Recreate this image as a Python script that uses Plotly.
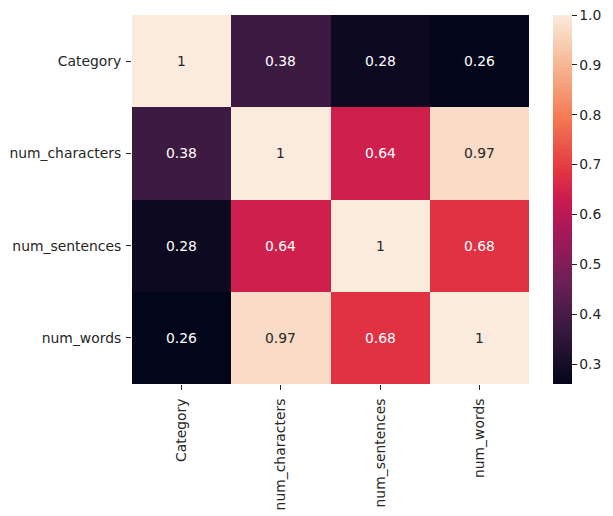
import plotly.graph_objects as go

labels = ['Category', 'num_characters', 'num_sentences', 'num_words']
corr = [
    [1, 0.38, 0.28, 0.26],
    [0.38, 1, 0.64, 0.97],
    [0.28, 0.64, 1, 0.68],
    [0.26, 0.97, 0.68, 1],
]
cbar_ticks = [0.3, 0.4, 0.5, 0.6, 0.7, 0.8, 0.9, 1.0]
cbar_text = ['0.3', '0.4', '0.5', '0.6', '0.7', '0.8', '0.9', '1.0']

# seaborn "rocket" colormap
rocket = [
    [0.0, '#03051a'], [0.143, '#35193e'], [0.286, '#701f57'], [0.429, '#ad1759'],
    [0.5, '#cb1b4f'], [0.571, '#e13342'], [0.714, '#f37651'], [0.857, '#f6b48f'],
    [1.0, '#faebdd'],
]

# the page has an 8px body margin, so the figure is 8px smaller on each side
fig = go.Figure(go.Heatmap(
    z=corr, x=labels, y=labels, colorscale=rocket, zmin=0.26, zmax=1,
    colorbar=dict(
        tickvals=cbar_ticks, ticktext=cbar_text, ticklabeloverflow='allow',
        ticks='outside', ticklen=5, tickwidth=1, tickcolor='#262626', outlinewidth=0,
        thickness=19, len=1, x=1.0605, xanchor='left', xpad=0, ypad=0,
        y=0.5, yanchor='middle',
        tickfont=dict(size=13.9, color='#262626'),
    ),
))

for i, row in enumerate(corr):
    for j, v in enumerate(row):
        fig.add_annotation(x=labels[j], y=labels[i], text=str(v), showarrow=False,
                           font=dict(size=13.9, color='#262626' if v > 0.9 else '#ffffff'))

fig.update_xaxes(tickangle=-90, ticks='outside', ticklen=5, tickwidth=1, tickcolor='#262626',
                 ticklabelstandoff=3, tickfont=dict(size=13.9, color='#262626'),
                 showgrid=False, zeroline=False)
fig.update_yaxes(autorange='reversed', ticks='outside', ticklen=5, tickwidth=1, tickcolor='#262626',
                 ticklabelstandoff=2, tickfont=dict(size=13.9, color='#262626'),
                 showgrid=False, zeroline=False)

fig.update_layout(
    width=605, height=508, autosize=False,
    margin=dict(l=124, r=84, t=7, b=132, autoexpand=False),
    font=dict(family='DejaVu Sans', color='#262626'),
    paper_bgcolor='#fff', plot_bgcolor='#fff',
)

fig.write_html("out.html")
